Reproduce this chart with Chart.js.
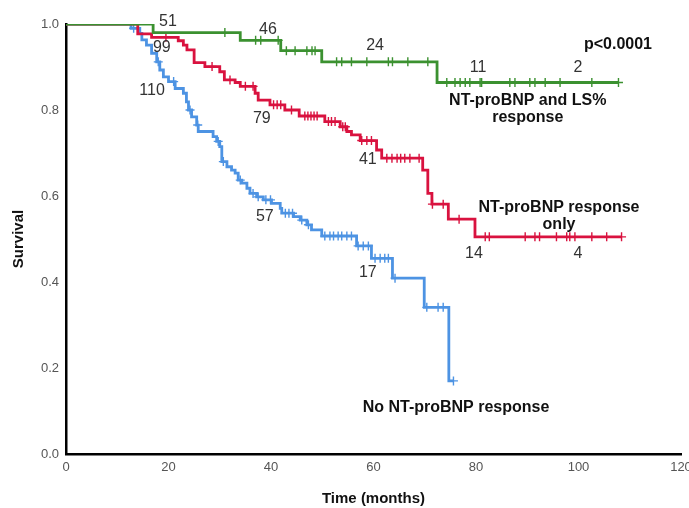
<!DOCTYPE html>
<html>
<head>
<meta charset="utf-8">
<script src="https://cdn.jsdelivr.net/npm/chart.js@4.4.1/dist/chart.umd.min.js"></script>
<style>
  html, body { margin: 0; padding: 0; background: #ffffff; }
  #wrap { width: 689px; height: 508px; }
</style>
</head>
<body>
<div id="wrap"><canvas id="km"></canvas></div>
<script>
// Kaplan-Meier survival by NT-proBNP / LS% response group.
// Each group: event times (months), survival after each event, censoring times, follow-up end.

const greenTimes = [0, 17.0, 34.0, 41.9, 49.9, 72.4];
const greenSurv  = [1.0, 0.980, 0.962, 0.938, 0.912, 0.864];
const greenEnd   = 107.8;
const greenCensor = [31, 37, 38, 41.4, 43, 44.7, 47, 48, 48.6, 52.8, 53.8, 55.7, 58.7, 62.9, 63.7,
  66.7, 70.6, 74.3, 75.9, 76.9, 77.9, 78.8, 80.8, 81.1, 86.6, 87.6, 90.5, 91.5, 93.5, 96.4, 102.6, 107.8];

const redTimes = [0, 14.0, 16.7, 21.9, 22.9, 23.6, 25.0, 27.1, 30.0, 30.9, 33.0, 34.0, 36.9, 37.5,
  39.8, 42.7, 45.5, 50.5, 53.5, 54.8, 55.7, 57.4, 60.6, 61.6, 69.6, 70.6, 71.4, 74.6, 79.8];
const redSurv  = [1.0, 0.977, 0.969, 0.961, 0.951, 0.940, 0.910, 0.901, 0.889, 0.870, 0.864, 0.855,
  0.839, 0.823, 0.812, 0.800, 0.786, 0.773, 0.761, 0.750, 0.742, 0.729, 0.707, 0.688, 0.660, 0.606,
  0.581, 0.546, 0.505];
const redEnd   = 108.4;
const redCensor = [19.5, 28.5, 32, 35, 36.5, 40.5, 41.2, 41.9, 44, 46.6, 47.2, 47.8, 48.4, 49, 51.2,
  51.8, 52.5, 54, 54.5, 57.7, 58.7, 59.6, 62.6, 63.6, 64.6, 65.3, 66.1, 67.1, 68.9, 71.5, 73.6, 76.7,
  81.8, 82.6, 89.6, 91.5, 92.4, 95.7, 97.7, 98.3, 99.3, 102.6, 105.5, 108.4];

const blueTimes = [0, 12.7, 14.4, 14.8, 15.7, 16.7, 17.7, 18.3, 19.0, 20.0, 21.3, 22.9, 23.5, 23.9,
  24.5, 25.5, 25.8, 28.7, 29.4, 30.0, 30.4, 31.4, 32.3, 33.0, 33.6, 34.3, 35.3, 35.9, 37.2, 38.5,
  40.1, 41.8, 42.1, 44.4, 45.7, 47.0, 47.9, 49.9, 56.7, 59.6, 63.7, 69.9, 74.7];
const blueSurv  = [1.0, 0.990, 0.978, 0.963, 0.951, 0.932, 0.912, 0.893, 0.877, 0.866, 0.850, 0.839,
  0.819, 0.800, 0.784, 0.765, 0.750, 0.738, 0.727, 0.715, 0.680, 0.668, 0.660, 0.653, 0.637, 0.630,
  0.618, 0.606, 0.598, 0.591, 0.583, 0.571, 0.560, 0.552, 0.544, 0.533, 0.521, 0.507, 0.484, 0.455,
  0.409, 0.341, 0.170];
const blueEnd   = 75.6;
const blueCensor = [13.2, 18.0, 21.0, 24.2, 25.7, 29.7, 30.7, 34.0, 36.5, 37.5, 39.0, 39.9, 42.8,
  43.5, 44.2, 46.0, 47.3, 50.5, 51.5, 52.2, 53.1, 53.8, 54.8, 55.7, 57.0, 58.0, 59.0, 60.3, 61.3,
  62.2, 62.9, 64.2, 70.4, 72.6, 73.6, 75.6];

// Numbers at risk written along each curve
const greenRisk = ['51', '46', '24', '11', '2'];
const greenRiskAt = [[19.9, 1.005], [39.4, 0.988], [60.3, 0.949], [80.4, 0.898], [99.9, 0.898]];
const redRisk = ['99', '79', '41', '14', '4'];
const redRiskAt = [[18.7, 0.946], [38.2, 0.781], [58.9, 0.684], [79.6, 0.465], [99.9, 0.465]];
const blueRisk = ['110', '57', '17'];
const blueRiskAt = [[16.8, 0.844], [38.8, 0.553], [58.9, 0.423]];

// Group labels
const groupNotes = [
  { lines: ['p<0.0001'], at: [107.7, 0.953] },
  { lines: ['NT-proBNP and LS%', 'response'], at: [90.1, 0.821] },
  { lines: ['NT-proBNP response', 'only'], at: [96.2, 0.574] },
  { lines: ['No NT-proBNP response'], at: [76.1, 0.107] }
];

const xTicks = [0, 20, 40, 60, 80, 100, 120];
const yTicks = [0.0, 0.2, 0.4, 0.6, 0.8, 1.0];

const GREEN = '#3b9130';
const RED = '#d9123f';
const BLUE = '#4d93e3';
const FONT = '"Liberation Sans", Arial, sans-serif';

function stepPoints(times, surv, end) {
  const pts = times.map((t, i) => ({ x: t, y: surv[i] }));
  pts.push({ x: end, y: surv[surv.length - 1] });
  return pts;
}

// survival value in effect at time t
function survAt(times, surv, t) {
  let v = surv[0];
  for (let i = 0; i < times.length; i++) {
    if (times[i] <= t) v = surv[i];
  }
  return v;
}

function censorPoints(times, surv, cens) {
  return cens.map(t => ({ x: t, y: survAt(times, surv, t) }));
}

function curve(times, surv, end, color) {
  return {
    type: 'line',
    data: stepPoints(times, surv, end),
    stepped: true,
    borderColor: color,
    borderWidth: 2.8,
    pointRadius: 0,
    fill: false
  };
}

function ticksSet(times, surv, cens, color) {
  return {
    type: 'scatter',
    data: censorPoints(times, surv, cens),
    showLine: false,
    pointStyle: 'cross',
    pointRadius: 4.5,
    pointBorderWidth: 1.4,
    borderColor: color,
    backgroundColor: color
  };
}

const textPlugin = {
  id: 'kmText',
  afterDatasetsDraw(chart) {
    const { ctx, scales: { x, y } } = chart;
    ctx.save();
    ctx.textAlign = 'center';
    ctx.textBaseline = 'middle';
    ctx.fillStyle = '#333333';
    ctx.font = '16px ' + FONT;
    const drawRisk = (labels, at) => labels.forEach((s, i) => {
      ctx.fillText(s, x.getPixelForValue(at[i][0]), y.getPixelForValue(at[i][1]));
    });
    drawRisk(greenRisk, greenRiskAt);
    drawRisk(redRisk, redRiskAt);
    drawRisk(blueRisk, blueRiskAt);

    ctx.fillStyle = '#111111';
    ctx.font = 'bold 16px ' + FONT;
    groupNotes.forEach(n => {
      const px = x.getPixelForValue(n.at[0]);
      const py = y.getPixelForValue(n.at[1]);
      n.lines.forEach((line, k) => ctx.fillText(line, px, py + k * 17));
    });
    ctx.restore();
  }
};

new Chart(document.getElementById('km'), {
  data: {
    datasets: [
      curve(greenTimes, greenSurv, greenEnd, GREEN),
      curve(redTimes, redSurv, redEnd, RED),
      curve(blueTimes, blueSurv, blueEnd, BLUE),
      ticksSet(greenTimes, greenSurv, greenCensor, GREEN),
      ticksSet(redTimes, redSurv, redCensor, RED),
      ticksSet(blueTimes, blueSurv, blueCensor, BLUE)
    ]
  },
  options: {
    responsive: true,
    maintainAspectRatio: false,
    animation: false,
    layout: { padding: { left: 0, right: 8, top: 24, bottom: 0 } },
    plugins: { legend: { display: false }, tooltip: { enabled: false } },
    scales: {
      x: {
        type: 'linear',
        min: 0, max: 120,
        afterBuildTicks(scale) { scale.ticks = xTicks.map(v => ({ value: v })); },
        afterFit(scale) { scale.height = 54; scale.paddingRight = 0; scale.paddingLeft = 0; },
        grid: { display: false, drawTicks: false },
        border: { color: '#000000', width: 2.5 },
        ticks: {
          color: '#555555',
          padding: 6,
          font: { family: FONT, size: 13 },
          maxRotation: 0
        },
        title: {
          display: true,
          text: 'Time (months)',
          color: '#111111',
          font: { family: FONT, size: 15, weight: 'bold' },
          padding: { top: 0, bottom: 0 }
        }
      },
      y: {
        type: 'linear',
        min: 0, max: 1,
        afterBuildTicks(scale) { scale.ticks = yTicks.map(v => ({ value: v })); },
        afterFit(scale) { scale.width = 66; },
        grid: { display: false, drawTicks: false },
        border: { color: '#000000', width: 2.5 },
        ticks: {
          color: '#555555',
          padding: 7,
          font: { family: FONT, size: 13 },
          callback: v => Number(v).toFixed(1)
        },
        title: {
          display: true,
          text: 'Survival',
          color: '#111111',
          font: { family: FONT, size: 15, weight: 'bold' },
          padding: { top: 10, bottom: 0 }
        }
      }
    }
  },
  plugins: [textPlugin]
});
</script>
</body>
</html>
